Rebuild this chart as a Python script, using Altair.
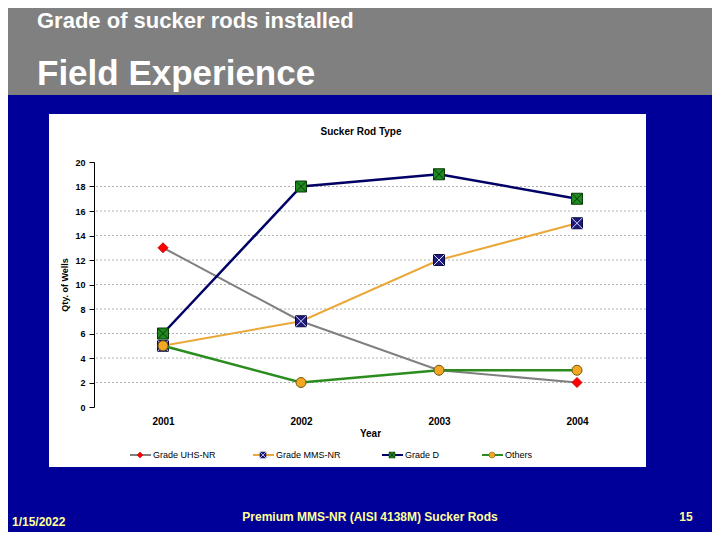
import altair as alt
import pandas as pd

# ---------------- data ----------------
years = ["2001", "2002", "2003", "2004"]
series_names = ["Grade UHS-NR", "Grade MMS-NR", "Grade D", "Others"]
uhs_nr = [13, 7, 3, 2]
mms_nr = [5, 7, 12, 15]
grade_d = [6, 18, 19, 17]
others = [5, 2, 3, 3]
y_ticks = list(range(0, 21, 2))
grid_vals = [v for v in y_ticks if 0 < v < 20]

slide_title = "Grade of sucker rods installed"
slide_heading = "Field Experience"
chart_title = "Sucker Rod Type"
footer_date = "1/15/2022"
footer_center = "Premium MMS-NR (AISI 4138M) Sucker Rods"
footer_page = "15"

rows = []
for name, vals in zip(series_names, [uhs_nr, mms_nr, grade_d, others]):
    for yr, v in zip(years, vals):
        rows.append({"Year": yr, "Qty": v, "Series": name})
df = pd.DataFrame(rows)

# ---------------- layout / style ----------------
W, H = 552, 245
PAD = {"left": 86, "top": 154, "right": 66, "bottom": 125}
FONT = "Liberation Sans"
one = pd.DataFrame({"k": [0]})

styles = {
    "Grade UHS-NR": dict(line="#808080", lw=2, shape="diamond", fill="#FF0000", stroke="#D00000", xc=None, size=100),
    "Grade MMS-NR": dict(line="#EBA83A", lw=2, shape="square", fill="#1E1B78", stroke="#0A0A40", xc="#D8D8FF", size=121),
    "Grade D": dict(line="#000066", lw=2.5, shape="square", fill="#1F8A1F", stroke="#0A3A0A", xc="#063806", size=121),
    "Others": dict(line="#2A8C1E", lw=2.5, shape="circle", fill="#F5A623", stroke="#6B5A10", xc=None, size=100),
}
legend_start = {"Grade UHS-NR": 36, "Grade MMS-NR": 159, "Grade D": 288, "Others": 388}
LEG_Y = 293
XPATH = "M-1,-1L1,1M1,-1L-1,1"

x_enc = alt.X(
    "Year:O", sort=years,
    scale=alt.Scale(type="point", padding=0.5),
    axis=alt.Axis(title="Year", labelAngle=0, ticks=False, domain=False, zindex=2,
                  labelFontSize=10, labelFontWeight="bold", labelColor="black",
                  labelPadding=9, titleFontSize=10, titleFontWeight="bold",
                  titleColor="black", titlePadding=2, labelFont=FONT, titleFont=FONT),
)
y_enc = alt.Y(
    "Qty:Q",
    scale=alt.Scale(domain=[0, 20], nice=False),
    axis=alt.Axis(title="Qty. of Wells", values=y_ticks, grid=False, zindex=2,
                  labelFontSize=9, labelFontWeight="bold", labelColor="black",
                  labelPadding=4, tickColor="black", tickSize=5, domainColor="black",
                  titleFontSize=9, titleFontWeight="bold", titleColor="black",
                  titlePadding=5, labelFont=FONT, titleFont=FONT),
)

layers = []

# slide decoration
layers.append(alt.Chart(one).mark_rect(color="#808080").encode(
    x=alt.value(-PAD["left"]), x2=alt.value(W + PAD["right"]),
    y=alt.value(-PAD["top"]), y2=alt.value(-67)))
layers.append(alt.Chart(one).mark_rect(color="white").encode(
    x=alt.value(-45), x2=alt.value(W), y=alt.value(-48), y2=alt.value(305)))

def txt(s, x, y, size, weight="normal", color="white", align="left", font=FONT, baseline="alphabetic"):
    return alt.Chart(one).mark_text(align=align, baseline=baseline, fontSize=size, fontWeight=weight,
                                    color=color, font=font).encode(
        x=alt.value(x), y=alt.value(y), text=alt.value(s))

layers.append(txt(slide_title, -57, -134, 22, "bold"))
layers.append(txt(slide_heading, -57, -77, 35, "bold"))
layers.append(txt(footer_date, -82, 364, 12, "bold", "#FFFF99"))
layers.append(txt(footer_center, 276, 359, 12, "bold", "#FFFF99", align="center"))
layers.append(txt(footer_page, 592, 359, 12, "bold", "#FFFF99", align="center"))
layers.append(txt(chart_title, 267, -27, 10, "bold", "black", align="center"))

# gridlines
layers.append(alt.Chart(pd.DataFrame({"Qty": grid_vals})).mark_rule(
    color="#B0B0B0", strokeDash=[2, 2], strokeWidth=1).encode(y=y_enc))

# series
for name in series_names:
    st = styles[name]
    sub = df[df["Series"] == name]
    base = alt.Chart(sub).encode(x=x_enc, y=y_enc)
    layers.append(base.mark_line(color=st["line"], strokeWidth=st["lw"]))
    layers.append(base.mark_point(shape=st["shape"], filled=True, fill=st["fill"], stroke=st["stroke"],
                                  strokeWidth=1, size=st["size"], opacity=1))
    if st["xc"]:
        layers.append(base.mark_point(shape=XPATH, filled=False, stroke=st["xc"], strokeWidth=1,
                                      size=st["size"], opacity=1))

# custom legend (layout positions in pixels, labels from series_names)
for name in series_names:
    st = styles[name]
    s0 = legend_start[name]
    lb = alt.Chart(pd.DataFrame({"Series": [name]}))
    layers.append(lb.mark_rule(color=st["line"], strokeWidth=2).encode(
        x=alt.value(s0), x2=alt.value(s0 + 21), y=alt.value(LEG_Y)))
    layers.append(lb.mark_point(shape=st["shape"], filled=True, fill=st["fill"], stroke=st["stroke"],
                                strokeWidth=0.5, size=36, opacity=1).encode(
        x=alt.value(s0 + 10), y=alt.value(LEG_Y)))
    if st["xc"]:
        layers.append(lb.mark_point(shape=XPATH, filled=False, stroke=st["xc"], strokeWidth=0.8,
                                    size=36, opacity=1).encode(
            x=alt.value(s0 + 10), y=alt.value(LEG_Y)))
    layers.append(lb.mark_text(align="left", baseline="middle", fontSize=9, font=FONT, color="black").encode(
        x=alt.value(s0 + 23), y=alt.value(LEG_Y), text="Series:N"))

chart = alt.layer(*layers).properties(
    width=W, height=H,
    autosize=alt.AutoSizeParams(type="none"),
    padding=PAD,
).configure(background="#000099", font=FONT).configure_view(stroke="transparent")

chart.save("out.html", embed_options={"renderer": "svg", "actions": False})
